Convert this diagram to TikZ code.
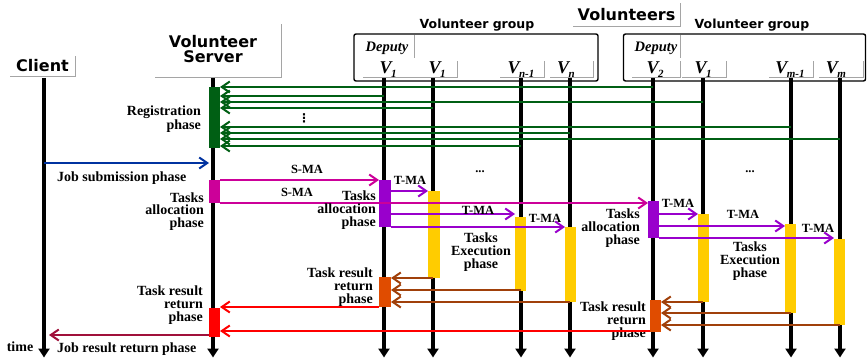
\documentclass[tikz,border=0pt]{standalone}
\usepackage{fontspec}
\setmainfont{Liberation Serif}
\newfontfamily\headsans{DejaVu Sans}
\usetikzlibrary{arrows.meta}

\definecolor{regGreen}{RGB}{0,95,20}
\definecolor{subBlue}{RGB}{0,50,160}
\definecolor{smaMag}{RGB}{204,0,153}
\definecolor{tmaPurple}{RGB}{153,0,204}
\definecolor{execYellow}{RGB}{255,204,0}
\definecolor{retOrange}{RGB}{224,76,0}
\definecolor{retBrown}{RGB}{160,64,10}
\definecolor{resRed}{RGB}{255,0,0}
\definecolor{jobRed}{RGB}{160,16,58}
\definecolor{rulegray}{RGB}{165,165,165}

% V with a lowered index
\newcommand\Vlab[1]{V\kern-0.5pt\raisebox{-4pt}{\fontsize{11}{11}\selectfont #1}}

\begin{document}
\begin{tikzpicture}[x=1pt,y=-1pt,
  lifeline/.style={line width=4pt,-{Triangle[length=9pt,width=11pt]}},
  bar/.style={inner sep=0pt,outer sep=0pt,minimum width=11pt},
  msg/.style={line width=2pt,-{Straight Barb[length=8pt,width=11pt]}},
  frame/.style={inner sep=0pt,outer sep=0pt},
  rule/.style={draw=rulegray,line width=0.8pt},
  grpbox/.style={draw,line width=1.4pt,rounded corners=2pt,inner sep=0pt},
  hdr/.style={font=\headsans\bfseries\fontsize{16}{15}\selectfont,align=center,inner sep=0pt},
  grp/.style={font=\headsans\bfseries\fontsize{12.5}{12.5}\selectfont,inner sep=0pt},
  phase/.style={font=\bfseries\fontsize{14}{12.8}\selectfont,inner sep=0pt,align=right},
  phasec/.style={phase,align=center},
  ma/.style={font=\bfseries\fontsize{12.5}{12.5}\selectfont,inner sep=0pt},
  dep/.style={font=\bfseries\itshape\fontsize{14.5}{14.5}\selectfont,inner sep=0pt},
  vname/.style={font=\bfseries\itshape\fontsize{18}{18}\selectfont,inner sep=0pt,anchor=base}
]
\useasboundingbox[fill=white] (0,0) rectangle (867,358);

% ---------- headers ----------
\node[hdr,frame,minimum width=65pt,minimum height=20pt] (client) at (42.5,66) {Client};
\draw[rule] (client.south west) -- (client.south east) -- (client.north east);

\node[frame,minimum width=126pt,minimum height=53pt] (srvbox) at (218,50.5) {};
\draw[rule] (srvbox.south west) -- (srvbox.south east) -- (srvbox.north east);
\node[hdr] (server) at (213,49) {Volunteer\\Server};

\node[hdr,frame,minimum width=107pt,minimum height=23pt] (vols) at (626.5,14.5) {Volunteers};
\draw[rule] (vols.south west) -- (vols.south east) -- (vols.north east);

\node[grp] (grpAlbl) at (477,25) {Volunteer group};
\node[grp] (grpBlbl) at (752,25) {Volunteer group};

% ---------- lifelines ----------
\foreach \n/\x in {c/44,s/213,a1/384,a2/433,a3/521,a4/570,b1/653,b2/703,b3/791,b4/840}{
  \coordinate (\n-top) at (\x,78);
  \coordinate (\n-bot) at (\x,357.5);
  \draw[lifeline] (\n-top) -- (\n-bot);
}

% ---------- volunteer groups ----------
\node[grpbox,minimum width=244pt,minimum height=47pt] (grpA) at (476,57.5) {};
\node[grpbox,minimum width=242pt,minimum height=47pt] (grpB) at (744.5,57.5) {};

\node[frame,minimum width=56pt,minimum height=23pt] (depAbox) at (386,46.5) {};
\draw[rule] (depAbox.north east) -- (depAbox.south east);
\node[dep] (depA) at (387,48.5) {Deputy};
\node[frame,minimum width=48pt,minimum height=23pt] (depBbox) at (656,46.5) {};
\draw[rule] (depBbox.north east) -- (depBbox.south east);
\node[dep] (depB) at (656,48.5) {Deputy};

% name boxes of the volunteers
\node[frame,minimum width=49pt,minimum height=16pt] (va1) at (387.5,69) {};
\draw[rule] (va1.south west) -- (va1.south east);
\foreach \n/\x/\w in {va2/434.5/45,va3/522/44,va4/571.5/43,vb1/656/48,vb2/704/44,vb3/791/44,vb4/841/44}{
  \node[frame,minimum width=\w pt,minimum height=16pt] (\n) at (\x,69) {};
  \draw[rule] (\n.south west) -- (\n.south east) -- (\n.north east);
}
\node[vname] (la1) at (388,74) {\Vlab{1}};
\node[vname] (la2) at (437,74) {\Vlab{1}};
\node[vname] (la3) at (521,74) {\Vlab{n-1}};
\node[vname] (la4) at (566,74) {\Vlab{n}};
\node[vname] (lb1) at (655,74) {\Vlab{2}};
\node[vname] (lb2) at (703,74) {\Vlab{1}};
\node[vname] (lb3) at (790,74) {\Vlab{m-1}};
\node[vname] (lb4) at (836,74) {\Vlab{m}};

% ---------- activation bars ----------
\node[bar,fill=regGreen,minimum height=61pt] (reg) at (214.5,117.5) {};
\node[bar,fill=smaMag,minimum height=23pt] (alloc) at (214.5,191.5) {};
\node[bar,fill=resRed,minimum height=29pt] (retS) at (214.5,322) {};

\node[bar,fill=tmaPurple,minimum width=12pt,minimum height=47pt] (a1alloc) at (385,203.5) {};
\node[bar,fill=retOrange,minimum width=12pt,minimum height=30pt] (a1ret) at (385,292) {};
\node[bar,fill=execYellow,minimum width=12pt,minimum height=87pt] (a2bar) at (434,234.5) {};
\node[bar,fill=execYellow,minimum height=74pt] (a3bar) at (520.5,254) {};
\node[bar,fill=execYellow,minimum height=75pt] (a4bar) at (570.5,264.5) {};

\node[bar,fill=tmaPurple,minimum height=37pt] (b1alloc) at (653.5,219.5) {};
\node[bar,fill=retOrange,minimum height=32pt] (b1ret) at (655.5,316) {};
\node[bar,fill=execYellow,minimum height=88pt] (b2bar) at (703.5,258) {};
\node[bar,fill=execYellow,minimum height=89pt] (b3bar) at (790.5,268.5) {};
\node[bar,fill=execYellow,minimum height=86pt] (b4bar) at (839.5,282) {};

% ---------- registration ----------
\foreach \src/\y in {b1/87,a1/96,b2/102,a2/108,b3/127,a4/133,b4/139,a3/146}
  \draw[msg,regGreen] (\src-top |- 0,\y) -- (reg.east |- 0,\y);
\node[inner sep=0pt,font=\headsans\bfseries\fontsize{12}{12}\selectfont] (regdots) at (304,118) {⋮};
\node[phase,anchor=east] (reglbl) at (201,119.5) {Registration\\phase};

% ---------- job submission ----------
\draw[msg,subBlue,shorten >=4pt] (c-top |- 0,163) -- (s-top |- 0,163);
\node[phase,anchor=west] (sublbl) at (57,178) {Job submission phase};

% ---------- server to deputies ----------
\draw[msg,smaMag] (alloc.north east) -- (a1alloc.north west);
\draw[msg,smaMag] (alloc.south east) -- (b1alloc.west |- alloc.south);
\node[ma] (sma1) at (307,169) {S-MA};
\node[ma] (sma2) at (297,192.5) {S-MA};
\node[phase,anchor=east] (alloclbl) at (204,211.5) {Tasks\\allocation\\phase};

% ---------- deputy V1 to its group ----------
\draw[msg,tmaPurple] (a1alloc.east |- 0,191) -- (a2bar.west |- 0,191);
\draw[msg,tmaPurple] (a1alloc.east |- 0,214) -- (a3bar.west |- 0,214);
\draw[msg,tmaPurple] (a1alloc.south east) -- (a4bar.west |- a1alloc.south);
\node[ma] (tmaA1) at (410,180) {T-MA};
\node[ma] (tmaA2) at (478,210) {T-MA};
\node[ma] (tmaA3) at (545,218) {T-MA};
\node[phase,anchor=east] (allocA) at (376,210) {Tasks\\allocation\\phase};
\node[ma] (dotsA) at (480,172) {...};
\node[phasec] (execA) at (481,252) {Tasks\\Execution\\phase};

% ---------- deputy V2 to its group ----------
\draw[msg,tmaPurple] (b1alloc.east |- 0,214) -- (b2bar.north west);
\draw[msg,tmaPurple] (b1alloc.east |- 0,226) -- (b3bar.west |- 0,226);
\draw[msg,tmaPurple] (b1alloc.south east) -- (b4bar.west |- b1alloc.south);
\node[ma] (tmaB1) at (678,203) {T-MA};
\node[ma] (tmaB2) at (743,214) {T-MA};
\node[ma] (tmaB3) at (818,228) {T-MA};
\node[phase,anchor=east] (allocB) at (640,228) {Tasks\\allocation\\phase};
\node[ma] (dotsB) at (750,172) {...};
\node[phasec] (execB) at (750,261) {Tasks\\Execution\\phase};

% ---------- results back to the deputies ----------
\draw[msg,retBrown] (a2-top |- a2bar.south) -- (a1ret.east |- a2bar.south);
\draw[msg,retBrown] (a3-top |- 0,290) -- (a1ret.east |- 0,290);
\draw[msg,retBrown] (a4-top |- 0,302) -- (a1ret.east |- 0,302);
\node[phase,anchor=east] (retA) at (373,287) {Task result\\return\\phase};

\draw[msg,retBrown] (b2-top |- 0,302) -- (b1ret.east |- 0,302);
\draw[msg,retBrown] (b3-top |- 0,313) -- (b1ret.east |- 0,313);
\draw[msg,retBrown] (b4-top |- 0,325) -- (b1ret.east |- 0,325);
\node[phase,anchor=east] (retB) at (646,321) {Task result\\return\\phase};

% ---------- results back to the server ----------
\draw[msg,resRed] (a1ret.south west) -- (retS.east |- a1ret.south);
\draw[msg,resRed] (b1ret.west |- 0,331) -- (retS.east |- 0,331);
\node[phase,anchor=east] (retSlbl) at (203,305) {Task result\\return\\phase};

% ---------- job result to the client ----------
\draw[msg,jobRed,shorten >=5pt] (retS.west |- 0,335) -- (c-top |- 0,335);
\node[phase,anchor=west] (jobres) at (57,349) {Job result return phase};
\node[phase] (timelbl) at (20,347) {time};
\end{tikzpicture}
\end{document}
